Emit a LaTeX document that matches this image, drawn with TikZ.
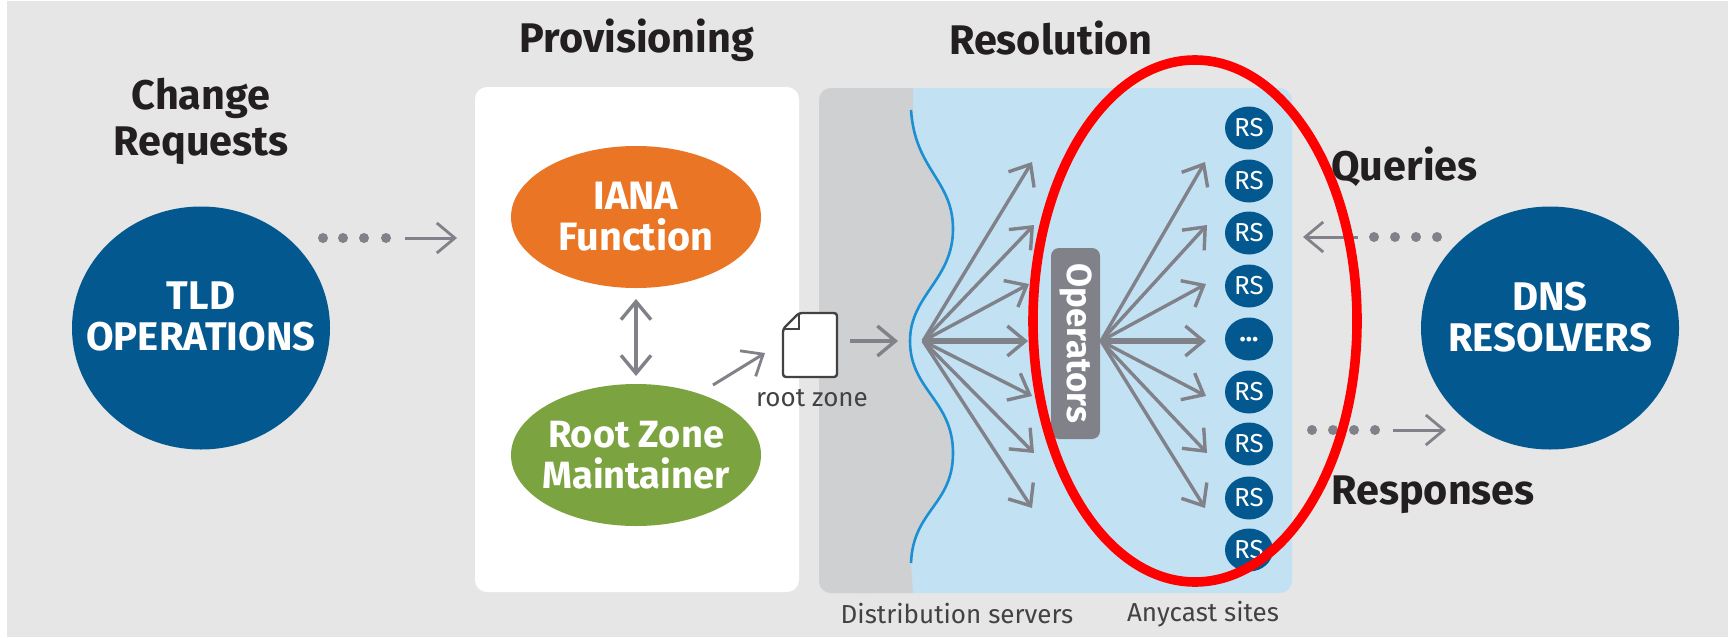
\documentclass[tikz,border=0pt]{standalone}
\usepackage{fontspec}
\setmainfont{Fira Sans}
\usetikzlibrary{arrows.meta,shapes.geometric}
\definecolor{bgc}{HTML}{E6E6E6}
\definecolor{navy}{HTML}{03598F}
\definecolor{ora}{HTML}{E97525}
\definecolor{grn}{HTML}{7BA440}
\definecolor{ligblue}{HTML}{C2E2F4}
\definecolor{midg}{HTML}{CFD0D2}
\definecolor{arr}{HTML}{818189}
\definecolor{wavec}{HTML}{1B8FD2}
\definecolor{ink}{HTML}{231F20}
\tikzset{
  x=0.5pt,y=-0.5pt,
  title/.style={font=\fontsize{20.7}{23}\selectfont\bfseries,text=ink,align=center,inner sep=0pt},
  small/.style={font=\fontsize{13}{15}\selectfont,text=ink!85,inner sep=0pt},
  bigc/.style={ellipse,fill=navy,minimum width=129pt,minimum height=121.5pt,inner sep=0pt},
  bigt/.style={text=white,inner sep=0pt,align=center,font=\fontsize{20}{20.5}\selectfont\bfseries},
  prov/.style={ellipse,minimum width=125pt,minimum height=71pt,inner sep=0pt},
  provt/.style={text=white,inner sep=0pt,align=center,font=\fontsize{19}{20.5}\selectfont\bfseries},
  rs/.style={ellipse,fill=navy,text=white,minimum width=24pt,minimum height=21.5pt,inner sep=-3pt,font=\fontsize{13}{14}\selectfont},
  arw/.style={draw=arr,line width=1.9pt,-{Straight Barb[length=9pt,width=15pt,line width=1.7pt]}},
  fan/.style={draw=arr,line width=1.7pt,-{Straight Barb[length=9pt,width=15pt,line width=1.7pt]}},
  fanmid/.style={draw=arr,line width=2.6pt,-{Straight Barb[length=9pt,width=15pt,line width=1.7pt]}},
  tarw/.style={draw=arr,line width=1.5pt,-{Straight Barb[length=9pt,width=15pt,line width=1.4pt]}},
  dotc/.style={circle,fill=arr,minimum size=5pt,inner sep=0pt},
}
\begin{document}
\begin{tikzpicture}
\useasboundingbox (0,0) rectangle (1728,637);
\fill[white] (0,0) rectangle (1728,637);
\fill[bgc] (7,1) rectangle (1728,637);
% panels
\fill[white,rounded corners=6pt] (475,87) rectangle (799,592);
\fill[ligblue,rounded corners=6pt] (819,88) rectangle (1292,593);
\fill[midg,rounded corners=6pt] (880,88) -- (819,88) -- (819,593) -- (880,593) -- cycle;
\fill[midg] (860,88) -- (913,88) -- (913,110)
  .. controls (915,170) and (953,180) .. (953,229)
  .. controls (953,280) and (910,295) .. (910,341)
  .. controls (910,390) and (953,400) .. (953,453)
  .. controls (953,505) and (913,510) .. (911,563)
  -- (913,593) -- (860,593) -- cycle;
\draw[wavec,line width=1.3pt] (911,110)
  .. controls (915,170) and (953,180) .. (953,229)
  .. controls (953,280) and (910,295) .. (910,341)
  .. controls (910,390) and (953,400) .. (953,453)
  .. controls (953,505) and (913,510) .. (911,563);
% titles
\node[title] (tchange) at (201,121) {Change\\Requests};
\node[title] (tprov) at (637,40) {Provisioning};
\node[title] (tres) at (1051,38) {Resolution};
\node[title,anchor=west] (tq) at (1331,167) {Queries};
\node[title,anchor=west] (tr) at (1331,495) {Responses};
% nodes
\node[bigc] (tld) at (201,328) {};
\node[bigt] (tldt) at (201,316) {TLD\\OPERATIONS};
\node[bigc] (dns) at (1550,328) {};
\node[bigt] (dnst) at (1550,317) {DNS\\RESOLVERS};
\node[prov,fill=ora] (iana) at (636,217) {};
\node[provt,font=\fontsize{19.8}{20.5}\selectfont\bfseries] (ianat) at (636,217) {IANA\\Function};
\node[prov,fill=grn] (rzm) at (636,455) {};
\node[provt] (rzmt) at (636,455) {Root Zone\\Maintainer};
% doc icon
\draw[draw=ink!85,fill=white,line width=1.2pt,line join=round,rounded corners=1.5pt]
  (799,313) -- (837,313) -- (837,377) -- (783,377) -- (783,329) -- cycle;
\draw[draw=ink!85,line width=1pt] (799,313) -- (799,329) -- (783,329);
\node[small] (rootz) at (812,398) {root zone};
\node[small] (dist) at (957,614) {Distribution servers};
\node[small] (any) at (1203,614) {Anycast sites};
% connectors
\coordinate (docl) at (850,341);
\coordinate (docr) at (898,341);
\draw[arw] (docl) -- (docr);
\coordinate (a1) at (636,299);
\coordinate (a2) at (636,376);
\draw[draw=arr,line width=1.9pt,{Straight Barb[length=9pt,width=15pt,line width=1.7pt]}-{Straight Barb[length=9pt,width=15pt,line width=1.7pt]}] (a1) -- (a2);
\coordinate (b1) at (713,385);
\coordinate (b2) at (765,353);
\draw[tarw] (b1) -- (b2);
\coordinate (t1) at (405,238);
\coordinate (t2) at (457,238);
\draw[tarw] (t1) -- (t2);
\foreach \n/\x in {d1/323,d2/343,d3/364,d4/386} \node[dotc] (\n) at (\x,238) {};
\coordinate (q1) at (1358,237);
\coordinate (q2) at (1303,237);
\draw[tarw] (q1) -- (q2);
\foreach \n/\x in {e1/1374,e2/1395,e3/1416,e4/1437} \node[dotc] (\n) at (\x,237) {};
\coordinate (r1) at (1393,430);
\coordinate (r2) at (1446,430);
\draw[tarw] (r1) -- (r2);
\foreach \n/\x in {f1/1312,f2/1333,f3/1354,f4/1375} \node[dotc] (\n) at (\x,430) {};
% fans
\coordinate (o1) at (923,341);
\foreach \n/\x/\y in {p1/1032/162,p2/1034/225,p3/1029/284,p5/1032/396,p6/1034/453,p7/1032/508}{
  \coordinate (\n) at (\x,\y);
  \draw[fan] (o1) -- (\n);
}
\coordinate (p4) at (1028,341);
\draw[fanmid] (o1) -- (p4);
\node[fill=arr,text=white,rounded corners=4pt,minimum width=95.5pt,minimum height=24.5pt,inner sep=0pt,rotate=-90,font=\fontsize{17.4}{20}\selectfont\bfseries] (ops) at (1075.5,343.5) {Operators};
\coordinate (o2) at (1101,341);
\foreach \n/\x/\y in {s1/1205/162,s2/1207/225,s3/1206/284,s5/1206/396,s6/1207/453,s7/1205/508}{
  \coordinate (\n) at (\x,\y);
  \draw[fan] (o2) -- (\n);
}
\coordinate (s4) at (1206,341);
\draw[fanmid] (o2) -- (s4);
% RS
\foreach \n/\y in {r1/128,r2/181,r3/233,r4/286,r6/392,r7/444,r8/498,r9/550}
  \node[rs] (\n) at (1249,\y) {RS};
\node[rs] (r5) at (1249,339) {\bfseries\raisebox{-3pt}{...}};
% red ellipse
\node[ellipse,draw=red,line width=4.8pt,minimum width=162pt,minimum height=261pt,inner sep=0pt] (mark) at (1195,321) {};
\end{tikzpicture}
\end{document}
